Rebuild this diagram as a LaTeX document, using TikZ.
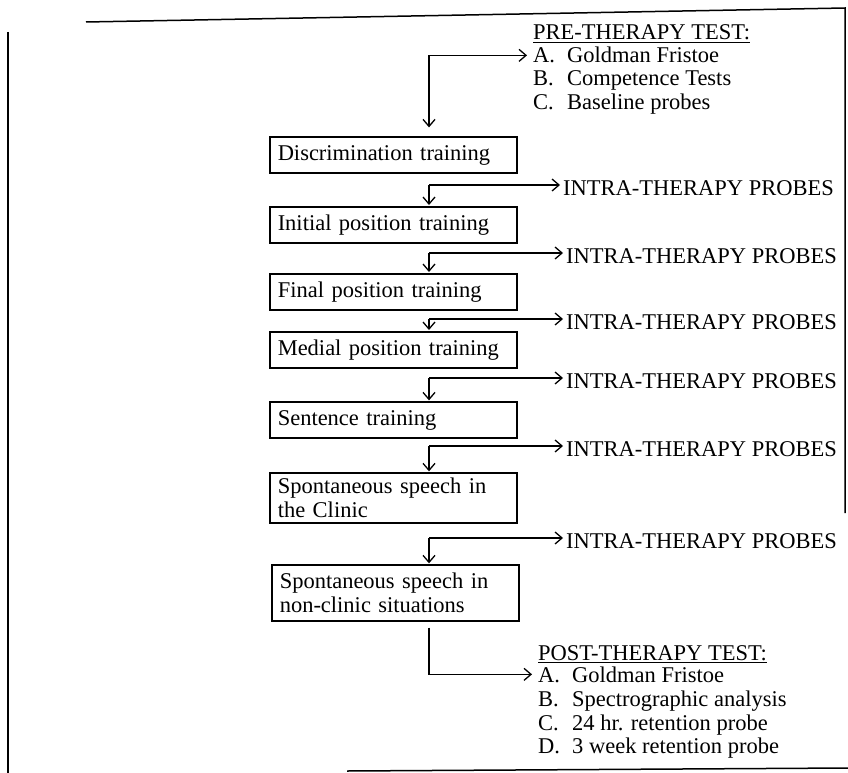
\documentclass[tikz,border=0pt]{standalone}
\usepackage{fontspec}
\setmainfont{Liberation Serif}
\usetikzlibrary{arrows.meta}
\begin{document}
\begin{tikzpicture}[x=1pt,y=-1pt,
				every node/.style={font=\fontsize{22.5}{24}\selectfont},
				stage/.style={draw,line width=1.5pt,anchor=west,text width=231pt,align=left,inner sep=8pt,minimum height=34pt},
				probe/.style={anchor=west,inner sep=3pt},
				item/.style={anchor=base west,inner xsep=6pt,inner ysep=2pt},
				head/.style={anchor=base west,inner sep=0pt},
				flow/.style={-{Straight Barb[length=7pt,width=12pt]},line width=1.3pt}]
\useasboundingbox (0,0) rectangle (848,773);
% page frame
\draw[line width=1.5pt] (86,22) -- (845,8) -- (845,513);
\draw[line width=1.5pt] (8,32) -- (8,773);
\draw[line width=1.5pt] (347,771) -- (848,768);
% training stages
\node[stage] (disc) at (269,155) {Discrimination training};
\node[stage] (init) at (269,225) {Initial position training};
\node[stage] (final) at (269,292) {Final position training};
\node[stage] (medial) at (269,350) {Medial position training};
\node[stage] (sent) at (269,420) {Sentence training};
\node[stage,inner ysep=5pt] (clinic) at (269,498) {Spontaneous speech in\\the Clinic};
\node[stage] (nonclinic) at (271,593) {Spontaneous speech in\\non-clinic situations};
% tests
\node[head] (prehead) at (533,40) {\underline{PRE-THERAPY TEST:}};
\node[item] (preA) at (527,63) {\makebox[34pt][l]{A.}Goldman Fristoe};
\node[item] (preB) at (527,86) {\makebox[34pt][l]{B.}Competence Tests};
\node[item] (preC) at (527,110) {\makebox[34pt][l]{C.}Baseline probes};
\node[head] (posthead) at (538,660) {\underline{POST-THERAPY TEST:}};
\node[item] (postA) at (532,682) {\makebox[34pt][l]{A.}Goldman Fristoe};
\node[item] (postB) at (532,706) {\makebox[34pt][l]{B.}Spectrographic analysis};
\node[item] (postC) at (532,730) {\makebox[34pt][l]{C.}24 hr. retention probe};
\node[item] (postD) at (532,753) {\makebox[34pt][l]{D.}3 week retention probe};
% probes
\node[probe] (p1) at (560,188) {INTRA-THERAPY PROBES};
\node[probe] (p2) at (563,256) {INTRA-THERAPY PROBES};
\node[probe] (p3) at (563,322) {INTRA-THERAPY PROBES};
\node[probe] (p4) at (563,381) {INTRA-THERAPY PROBES};
\node[probe] (p5) at (563,449) {INTRA-THERAPY PROBES};
\node[probe] (p6) at (563,541) {INTRA-THERAPY PROBES};
\coordinate (col) at (429,0);
\coordinate (s1) at (429,185);
\coordinate (s2) at (429,253);
\coordinate (s3) at (429,319);
\coordinate (s4) at (429,378);
\coordinate (s5) at (429,446);
\coordinate (s6) at (429,538);
% connectors
\draw[flow,{Straight Barb[length=7pt,width=12pt]}-{Straight Barb[length=7pt,width=12pt]},shorten >=9pt] (preA.west) -| (disc.north -| col);
\draw[flow] (s1) -- (s1 -| p1.west);
\draw[flow,shorten >=1pt] (s1) -- (s1 |- init.north);
\draw[flow] (s2) -- (s2 -| p2.west);
\draw[flow,shorten >=1pt] (s2) -- (s2 |- final.north);
\draw[flow] (s3) -- (s3 -| p3.west);
\draw[flow,shorten >=1pt] (s3) -- (s3 |- medial.north);
\draw[flow] (s4) -- (s4 -| p4.west);
\draw[flow,shorten >=1pt] (s4) -- (s4 |- sent.north);
\draw[flow] (s5) -- (s5 -| p5.west);
\draw[flow,shorten >=1pt] (s5) -- (s5 |- clinic.north);
\draw[flow] (s6) -- (s6 -| p6.west);
\draw[flow,shorten >=1pt] (s6) -- (s6 |- nonclinic.north);
\draw[flow,shorten <=6pt] (nonclinic.south -| col) |- (postA.west);
\end{tikzpicture}
\end{document}
